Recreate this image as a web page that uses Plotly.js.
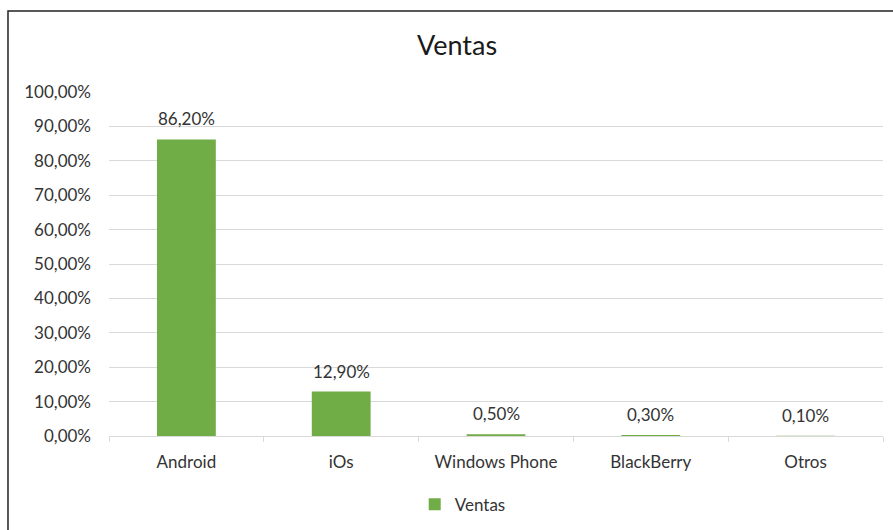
<!DOCTYPE html>
<html>
<head>
<meta charset="utf-8">
<script src="https://cdn.plot.ly/plotly-3.0.1.min.js"></script>
<style>html,body{margin:0;padding:0;background:#fff;}#chart{width:893px;height:530px;}</style>
</head>
<body>
<div id="chart"></div>
<script>
const categories = ["Android", "iOs", "Windows Phone", "BlackBerry", "Otros"];
const ventas = [0.862, 0.129, 0.005, 0.003, 0.001];
const yTicks = [0, 0.1, 0.2, 0.3, 0.4, 0.5, 0.6, 0.7, 0.8, 0.9, 1.0];
const seriesName = "Ventas";
const titleText = "Ventas";

const fontFam = "Lato, 'Open Sans', sans-serif";
const txtColor = "#333333";
const fs = 17;

function fmtPct(v) {
  return (v * 100).toFixed(2).replace(".", ",") + "%";
}

const annotations = categories.map((c, i) => ({
  x: c, y: ventas[i], xref: "x", yref: "y",
  text: fmtPct(ventas[i]), showarrow: false,
  yanchor: "bottom", yshift: 8,
  font: {family: fontFam, size: fs, color: txtColor}
}));

const trace = {
  type: "bar",
  x: categories,
  y: ventas,
  name: seriesName,
  marker: {color: "#70ad47"},
  hoverinfo: "x+y",
  showlegend: true
};

const layout = {
  width: 893, height: 530,
  margin: {l: 109, r: 10, t: 92, b: 94, autoexpand: false},
  paper_bgcolor: "#ffffff",
  plot_bgcolor: "#ffffff",
  separators: ",.",
  font: {family: fontFam, size: fs, color: txtColor},
  title: {
    text: titleText,
    font: {family: fontFam, size: 27, color: "#1a1a1a"},
    x: 0.4496, xref: "paper", xanchor: "center",
    y: 47, yref: "container", yanchor: "middle"
  },
  bargap: 0.62,
  xaxis: {
    type: "category",
    showgrid: false,
    showline: true, linecolor: "#d9d9d9", linewidth: 1,
    ticks: "outside", tickson: "boundaries", ticklen: 5, tickcolor: "#d9d9d9",
    ticklabelstandoff: 11,
    tickfont: {family: fontFam, size: fs, color: txtColor},
    automargin: false,
    fixedrange: true
  },
  yaxis: {
    range: [0, 1.0],
    tickvals: yTicks,
    tickformat: ".2%",
    showgrid: true, gridcolor: "#d9d9d9", gridwidth: 1,
    zeroline: false, showline: false, ticks: "",
    ticklabelstandoff: 17,
    tickfont: {family: fontFam, size: fs, color: txtColor},
    automargin: false,
    fixedrange: true
  },
  legend: {
    orientation: "h",
    x: 0.457, xanchor: "center",
    y: -0.2, yanchor: "middle",
    font: {family: fontFam, size: fs, color: txtColor}
  },
  annotations: annotations,
  shapes: [{
    type: "rect", xref: "paper", yref: "paper",
    x0: -0.1305, x1: 1.2, y0: -0.5, y1: 1.2355,
    line: {color: "#222222", width: 1.5}, fillcolor: "rgba(0,0,0,0)",
    layer: "below"
  }]
};

Plotly.newPlot("chart", [trace], layout, {displayModeBar: false, staticPlot: true});
</script>
</body>
</html>
